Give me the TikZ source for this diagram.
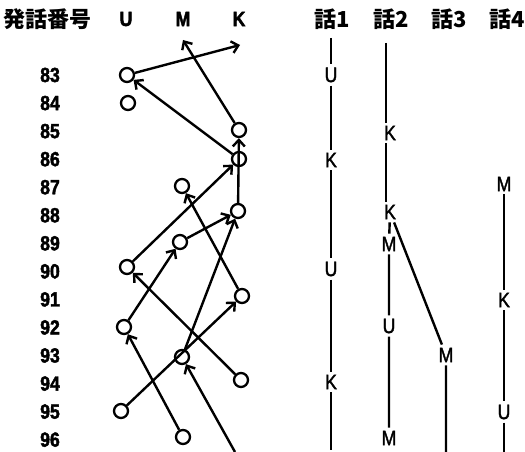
\documentclass[tikz,border=0pt]{standalone}
\usepackage{fontspec}
\setmainfont{Liberation Sans}
\newfontfamily\jpfont{Noto Sans CJK JP}
\newfontfamily\heavyfont{Liberation Sans}[FakeBold=2,FakeStretch=0.86]
\newfontfamily\medfont{Liberation Sans}[FakeBold=1.6,FakeStretch=0.85]
\usetikzlibrary{arrows.meta}
\begin{document}
\begin{tikzpicture}[x=1pt,y=-1pt,
  utt/.style={circle,draw,line width=2.3pt,minimum size=14pt,inner sep=0pt},
  arr/.style={-{Straight Barb[length=6.5pt,width=12pt]},line width=2.4pt},
  hdr/.style={font=\jpfont\bfseries\fontsize{22}{24}\selectfont},
  lbl/.style={font=\heavyfont\bfseries\fontsize{20.5}{22}\selectfont},
  spk/.style={font=\medfont\fontsize{21}{23}\selectfont,inner sep=3pt},
  thr/.style={line width=2.4pt}]
\useasboundingbox (0,0) rectangle (525,452);
% headers
\node[hdr] (h0) at (48,19) {発話番号};
\node[lbl] (hu) at (126,19) {U};
\node[lbl] (hm) at (183,19) {M};
\node[lbl] (hk) at (239,19) {K};
\node[hdr] (h1) at (332,19) {話1};
\node[hdr] (h2) at (391,19) {話2};
\node[hdr] (h3) at (449,19) {話3};
\node[hdr] (h4) at (507,19) {話4};
% row numbers
\foreach \n [count=\i from 0] in {83,...,96}
  \node[lbl] (r\n) at (50,{75+\i*28.05}) {\n};
% utterance circles
\node[utt] (u83) at (127,75) {};
\node[utt] (u84) at (128,103) {};
\node[utt] (k85) at (239,130) {};
\node[utt] (k86) at (239,159) {};
\node[utt] (m87) at (182,186) {};
\node[utt] (k88) at (238,211) {};
\node[utt] (m89) at (180,242) {};
\node[utt] (u90) at (127,267) {};
\node[utt] (k91) at (242,296) {};
\node[utt] (u92) at (124,327) {};
\node[utt] (m93) at (182,357) {};
\node[utt] (k94) at (241,380) {};
\node[utt] (u95) at (121,411) {};
\node[utt] (m96) at (183,437) {};
\coordinate (a1) at (240,45);
\coordinate (a2) at (183,40);
\coordinate (b97) at (235,452);
% arrows
\draw[arr] (u83) -- (a1);
\draw[arr] (k85) -- (a2);
\draw[arr] (k86) -- (u83);
\draw[arr] (k88) -- (k85);
\draw[arr] (u90) -- (k86);
\draw[arr] (m89) -- (k88);
\draw[arr] (k91) -- (m87);
\draw[arr] (m93) -- (k88);
\draw[arr] (u92) -- (m89);
\draw[arr] (k94) -- (u90);
\draw[arr] (u95) -- (k91);
\draw[arr] (m96) -- (u92);
\draw[arr] (b97) -- (m93);
% thread 1
\coordinate (t1top) at (331,38);
\coordinate (t1bot) at (331,450);
\node[spk] (t1a) at (331,75) {U};
\node[spk] (t1b) at (331,160) {K};
\node[spk] (t1c) at (331,269) {U};
\node[spk] (t1d) at (331,382) {K};
\draw[thr] (t1top) -- (t1a) -- (t1b) -- (t1c) -- (t1d) -- (t1bot);
% thread 2
\coordinate (t2top) at (386,43);
\node[spk] (t2a) at (390,133) {K};
\node[spk] (t2b) at (390,212) {K};
\node[spk] (t2c) at (389,244) {M};
\node[spk] (t2d) at (389,326) {U};
\node[spk] (t2e) at (389,438) {M};
\draw[thr] (t2top) -- (t2top |- t2a.north);
\draw[thr] (t2a.south -| t2top) -- (t2b.north -| t2top);
\draw[thr] (t2b) -- (t2c) -- (t2d) -- (t2e);
% thread 3
\node[spk] (t3a) at (446,355) {M};
\coordinate (t3bot) at (446,452);
\draw[thr] (t2b) -- (t3a) -- (t3bot);
% thread 4
\node[spk] (t4a) at (504,184) {M};
\node[spk] (t4b) at (504,300) {K};
\node[spk] (t4c) at (504,412) {U};
\coordinate (t4bot) at (504,452);
\draw[thr] (t4a) -- (t4b) -- (t4c) -- (t4bot);
\end{tikzpicture}
\end{document}
